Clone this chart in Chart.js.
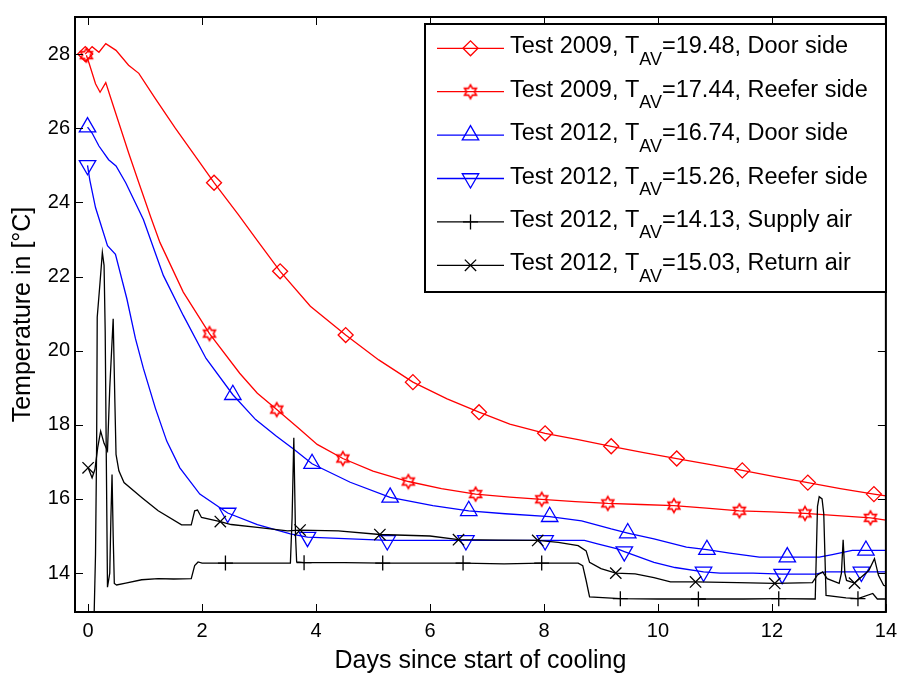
<!DOCTYPE html>
<html>
<head>
<meta charset="utf-8">
<script src="https://cdn.jsdelivr.net/npm/chart.js@4"></script>
<style>
  html, body { margin: 0; padding: 0; background: #fff; }
  #wrap { width: 904px; height: 673px; position: relative; }
</style>
</head>
<body>
<div id="wrap"><canvas id="chart"></canvas></div>
<script>
// axis ticks
const xTickVals = [0, 2, 4, 6, 8, 10, 12, 14];
const xTickLabels = ['0', '2', '4', '6', '8', '10', '12', '14'];
const yTickVals = [14, 16, 18, 20, 22, 24, 26, 28];
const yTickLabels = ['14', '16', '18', '20', '22', '24', '26', '28'];

// Test 2009, door side
const door09X = [-0.05, 0.07, 0.19, 0.31, 0.49, 0.71, 0.89, 1.18, 1.53, 1.93, 2.21, 2.63, 2.97, 3.37, 3.9, 4.52, 5.1, 5.70, 6.3, 6.86, 7.4, 8.02, 8.6, 9.18, 9.75, 10.33, 10.9, 11.48, 12.05, 12.63, 13.2, 13.79, 14.0];
const door09Y = [28.0, 28.2, 28.05, 28.28, 28.1, 27.7, 27.48, 26.8, 26.0, 25.14, 24.53, 23.68, 22.97, 22.14, 21.2, 20.42, 19.75, 19.15, 18.7, 18.34, 18.02, 17.77, 17.6, 17.42, 17.25, 17.09, 16.93, 16.77, 16.6, 16.44, 16.28, 16.13, 16.08];
const door09Marks = [-0.05, 2.21, 3.37, 4.52, 5.70, 6.86, 8.02, 9.18, 10.33, 11.48, 12.63, 13.79];

// Test 2009, reefer side
const reefer09X = [-0.03, 0.02, 0.13, 0.21, 0.31, 0.39, 0.54, 0.71, 0.89, 1.10, 1.26, 1.67, 2.13, 2.66, 2.97, 3.31, 3.7, 4.02, 4.47, 5.0, 5.62, 6.2, 6.80, 7.4, 7.96, 8.55, 9.12, 9.7, 10.28, 10.85, 11.43, 12.0, 12.58, 13.15, 13.73, 14.0];
const reefer09Y = [27.97, 27.74, 27.2, 26.97, 27.23, 26.85, 26.14, 25.34, 24.53, 23.6, 22.92, 21.58, 20.46, 19.39, 18.85, 18.41, 17.9, 17.47, 17.09, 16.75, 16.47, 16.28, 16.13, 16.05, 15.99, 15.93, 15.88, 15.85, 15.82, 15.75, 15.68, 15.65, 15.61, 15.55, 15.49, 15.43];
const reefer09Marks = [-0.03, 2.13, 3.31, 4.47, 5.62, 6.80, 7.96, 9.12, 10.28, 11.43, 12.58, 13.73];

// Test 2012, door side
const door12X = [-0.01, 0.07, 0.19, 0.36, 0.49, 0.66, 0.97, 1.32, 1.67, 2.07, 2.54, 2.94, 3.3, 3.61, 3.93, 4.6, 5.30, 6.05, 6.68, 7.32, 8.10, 8.66, 9.18, 9.47, 9.93, 10.5, 10.86, 11.26, 11.78, 12.27, 12.83, 13.06, 13.41, 13.65, 14.0];
const door12Y = [26.03, 25.87, 25.52, 25.15, 24.98, 24.53, 23.54, 22.03, 20.95, 19.79, 18.81, 18.14, 17.7, 17.34, 16.95, 16.45, 16.04, 15.82, 15.68, 15.6, 15.52, 15.41, 15.19, 15.08, 14.92, 14.70, 14.63, 14.54, 14.43, 14.43, 14.43, 14.50, 14.61, 14.61, 14.61];
const door12Marks = [-0.01, 2.54, 3.93, 5.30, 6.68, 8.10, 9.47, 10.86, 12.27, 13.65];

// Test 2012, reefer side
const reefer12X = [-0.01, 0.03, 0.13, 0.34, 0.48, 0.68, 0.83, 0.97, 1.18, 1.38, 1.61, 1.96, 2.45, 2.97, 3.55, 3.85, 4.5, 5.25, 6.0, 6.63, 7.3, 8.02, 8.71, 8.94, 9.29, 9.41, 9.93, 10.3, 10.8, 11.09, 11.67, 12.18, 12.77, 12.94, 13.57, 14.0];
const reefer12Y = [25.0, 24.6, 23.86, 22.83, 22.6, 21.4, 20.33, 19.52, 18.45, 17.56, 16.84, 16.13, 15.62, 15.31, 15.06, 14.97, 14.93, 14.88, 14.88, 14.88, 14.88, 14.88, 14.88, 14.79, 14.65, 14.58, 14.29, 14.15, 14.03, 14.0, 14.0, 13.97, 13.97, 14.03, 14.03, 14.03];
const reefer12Marks = [-0.01, 2.45, 3.85, 5.25, 6.63, 8.02, 9.41, 10.8, 12.18, 13.57];

// Test 2012, supply air
const supplyX = [0.10, 0.13, 0.15, 0.16, 0.21, 0.25, 0.28, 0.30, 0.32, 0.34, 0.38, 0.40, 0.42, 0.44, 0.46, 0.50, 0.66, 0.94, 1.23, 1.50, 1.81, 1.87, 1.93, 2.0, 2.41, 3.0, 3.55, 3.58, 3.61, 3.64, 3.66, 3.79, 4.5, 5.17, 6.0, 6.58, 7.3, 7.96, 8.6, 8.68, 8.74, 8.80, 9.34, 10.0, 10.71, 11.5, 12.12, 12.76, 12.80, 12.83, 12.88, 12.91, 12.95, 13.3, 13.51, 13.77, 13.85, 14.0];
const supplyY = [12.5, 14.5, 17.5, 20.9, 21.85, 22.65, 22.3, 20.5, 17.0, 13.62, 14.0, 15.5, 16.66, 15.0, 13.72, 13.68, 13.73, 13.82, 13.85, 13.84, 13.85, 14.2, 14.3, 14.27, 14.27, 14.27, 14.27, 15.5, 17.65, 15.0, 14.3, 14.28, 14.28, 14.27, 14.27, 14.27, 14.25, 14.27, 14.27, 14.2, 13.8, 13.36, 13.31, 13.3, 13.3, 13.3, 13.31, 13.3, 15.8, 16.06, 16.0, 15.6, 13.4, 13.33, 13.31, 13.45, 13.3, 13.3];
const supplyMarks = [2.41, 3.79, 5.17, 6.58, 7.96, 9.34, 10.71, 12.12, 13.51];

// Test 2012, return air
const returnX = [0.0, 0.07, 0.12, 0.17, 0.22, 0.28, 0.34, 0.38, 0.44, 0.47, 0.49, 0.54, 0.63, 0.94, 1.23, 1.64, 1.81, 1.87, 1.92, 1.99, 2.32, 2.51, 2.97, 3.50, 3.72, 4.39, 5.12, 6.0, 6.50, 7.2, 7.89, 8.25, 8.6, 8.74, 8.80, 9.0, 9.26, 9.6, 9.93, 10.22, 10.66, 11.4, 12.05, 12.71, 12.8, 12.89, 12.97, 13.18, 13.22, 13.25, 13.28, 13.31, 13.45, 13.70, 13.80, 13.87, 13.96, 14.0];
const returnY = [16.84, 16.57, 16.8, 17.4, 17.83, 17.5, 17.3, 19.0, 20.86, 18.6, 17.2, 16.76, 16.44, 16.04, 15.68, 15.3, 15.3, 15.68, 15.7, 15.5, 15.39, 15.31, 15.23, 15.14, 15.16, 15.14, 15.04, 15.0, 14.9, 14.89, 14.88, 14.83, 14.74, 14.6, 14.29, 14.12, 14.0, 13.98, 13.88, 13.76, 13.76, 13.74, 13.72, 13.74, 13.95, 14.03, 13.85, 13.72, 14.0, 14.9, 14.0, 13.8, 13.73, 14.07, 14.39, 13.94, 13.67, 13.65];
const returnMarks = [0.0, 2.32, 3.72, 5.12, 6.50, 7.89, 9.26, 10.66, 12.05, 13.45];

// legend texts: [before subscript, subscript, after]
const legendTexts = [
  ['Test 2009, T', 'AV', '=19.48, Door side'],
  ['Test 2009, T', 'AV', '=17.44, Reefer side'],
  ['Test 2012, T', 'AV', '=16.74, Door side'],
  ['Test 2012, T', 'AV', '=15.26, Reefer side'],
  ['Test 2012, T', 'AV', '=14.13, Supply air'],
  ['Test 2012, T', 'AV', '=15.03, Return air']
];

const FONT = "'Liberation Sans', Arial, Helvetica, sans-serif";
Chart.defaults.font.family = FONT;
Chart.defaults.color = '#000';

// matlab-like hexagram marker
function hexagram(color, R) {
  const s = 18;
  const c = document.createElement('canvas');
  c.width = s; c.height = s;
  const g = c.getContext('2d');
  g.strokeStyle = color;
  g.lineWidth = 1.6;
  g.beginPath();
  for (let k = 0; k < 12; k++) {
    const r = k % 2 === 0 ? R : R / Math.sqrt(3);
    const a = -Math.PI / 2 + k * Math.PI / 6;
    const px = s / 2 + r * Math.cos(a), py = s / 2 + r * Math.sin(a);
    if (k === 0) g.moveTo(px, py); else g.lineTo(px, py);
  }
  g.closePath();
  g.stroke();
  return c;
}
const star = hexagram('#ff0000', 6.8);

const markers = [
  { style: 'rectRot', radius: 7.5, rotation: 0 },
  { style: star, radius: 7, rotation: 0 },
  { style: 'triangle', radius: 9.5, rotation: 0 },
  { style: 'triangle', radius: 9.5, rotation: 180 },
  { style: 'cross', radius: 7.5, rotation: 0 },
  { style: 'crossRot', radius: 8, rotation: 0 }
];
const colors = ['#ff0000', '#ff0000', '#0000ff', '#0000ff', '#000000', '#000000'];

function series(i, xs, ys, marks) {
  const m = markers[i];
  return {
    data: xs.map((x, k) => ({ x: x, y: ys[k] })),
    borderColor: colors[i],
    backgroundColor: 'rgba(0,0,0,0)',
    borderWidth: 1.3,
    tension: 0,
    pointStyle: m.style,
    rotation: m.rotation,
    pointBorderWidth: 1.3,
    pointRadius: ctx => marks.includes(xs[ctx.dataIndex]) ? m.radius : 0,
    pointHoverRadius: 0,
    order: 5 - i
  };
}

const framePlugin = {
  id: 'frame',
  afterDatasetsDraw(chart) {
    const { ctx, chartArea: a, scales: { x, y } } = chart;
    ctx.save();
    ctx.strokeStyle = '#000';
    ctx.lineWidth = 1;
    ctx.beginPath();
    xTickVals.forEach(v => {
      const px = Math.round(x.getPixelForValue(v)) + 0.5;
      ctx.moveTo(px, a.bottom); ctx.lineTo(px, a.bottom - 8);
      ctx.moveTo(px, a.top); ctx.lineTo(px, a.top + 8);
    });
    yTickVals.forEach(v => {
      const py = Math.round(y.getPixelForValue(v)) + 0.5;
      ctx.moveTo(a.left, py); ctx.lineTo(a.left + 8, py);
      ctx.moveTo(a.right, py); ctx.lineTo(a.right - 8, py);
    });
    ctx.stroke();
    ctx.lineWidth = 2;
    ctx.strokeRect(a.left, a.top, a.right - a.left, a.bottom - a.top);
    ctx.restore();
  }
};

const legendPlugin = {
  id: 'texLegend',
  afterDraw(chart) {
    const ctx = chart.ctx;
    const box = { x: 425, y: 24, w: 461, h: 268 };
    ctx.save();
    ctx.fillStyle = '#fff';
    ctx.fillRect(box.x, box.y, box.w, box.h);
    ctx.strokeStyle = '#000';
    ctx.lineWidth = 2;
    ctx.strokeRect(box.x, box.y, box.w, box.h);
    legendTexts.forEach((t, i) => {
      const base = 53.3 + 43.4 * i;
      const ly = base - 5;
      ctx.strokeStyle = colors[i];
      ctx.lineWidth = 1.3;
      ctx.beginPath();
      ctx.moveTo(437, ly); ctx.lineTo(504, ly);
      ctx.stroke();
      const m = markers[i];
      ctx.fillStyle = 'rgba(0,0,0,0)';
      Chart.helpers.drawPoint(ctx, { pointStyle: m.style, radius: m.radius, rotation: m.rotation, borderWidth: 1.3 }, 470.5, ly);
      ctx.fillStyle = '#000';
      ctx.textBaseline = 'alphabetic';
      ctx.textAlign = 'left';
      let tx = 510;
      ctx.font = '23.5px ' + FONT;
      ctx.fillText(t[0], tx, base);
      tx += ctx.measureText(t[0]).width;
      ctx.font = '18px ' + FONT;
      ctx.fillText(t[1], tx, base + 11.5);
      tx += ctx.measureText(t[1]).width;
      ctx.font = '23.5px ' + FONT;
      ctx.fillText(t[2], tx, base);
    });
    ctx.restore();
  }
};

new Chart(document.getElementById('chart'), {
  type: 'line',
  data: {
    datasets: [
      series(0, door09X, door09Y, door09Marks),
      series(1, reefer09X, reefer09Y, reefer09Marks),
      series(2, door12X, door12Y, door12Marks),
      series(3, reefer12X, reefer12Y, reefer12Marks),
      series(4, supplyX, supplyY, supplyMarks),
      series(5, returnX, returnY, returnMarks)
    ]
  },
  options: {
    responsive: true,
    maintainAspectRatio: false,
    devicePixelRatio: 1,
    animation: false,
    events: [],
    layout: { padding: { top: 13, right: 11.5, left: 0, bottom: 0 } },
    plugins: { legend: { display: false }, tooltip: { enabled: false } },
    scales: {
      x: {
        type: 'linear',
        min: -0.23,
        max: 14,
        afterBuildTicks: s => { s.ticks = xTickVals.map(v => ({ value: v })); },
        afterFit: s => { s.height = 61; },
        ticks: {
          callback: (v, i) => xTickLabels[i],
          font: { size: 20 },
          color: '#000',
          padding: 7,
          maxRotation: 0,
          autoSkip: false
        },
        grid: { display: false, drawTicks: false },
        border: { display: false },
        title: {
          display: true,
          text: 'Days since start of cooling',
          font: { size: 25 },
          color: '#000',
          padding: { top: 0, bottom: -3 }
        }
      },
      y: {
        type: 'linear',
        min: 12.95,
        max: 29,
        afterBuildTicks: s => { s.ticks = yTickVals.map(v => ({ value: v })); },
        afterFit: s => { s.width = 75; },
        ticks: {
          callback: (v, i) => yTickLabels[i],
          font: { size: 20 },
          color: '#000',
          padding: 5
        },
        grid: { display: false, drawTicks: false },
        border: { display: false },
        title: {
          display: true,
          text: 'Temperature in [°C]',
          font: { size: 25 },
          color: '#000',
          padding: { top: 8, bottom: 0 }
        }
      }
    }
  },
  plugins: [framePlugin, legendPlugin]
});
</script>
</body>
</html>
